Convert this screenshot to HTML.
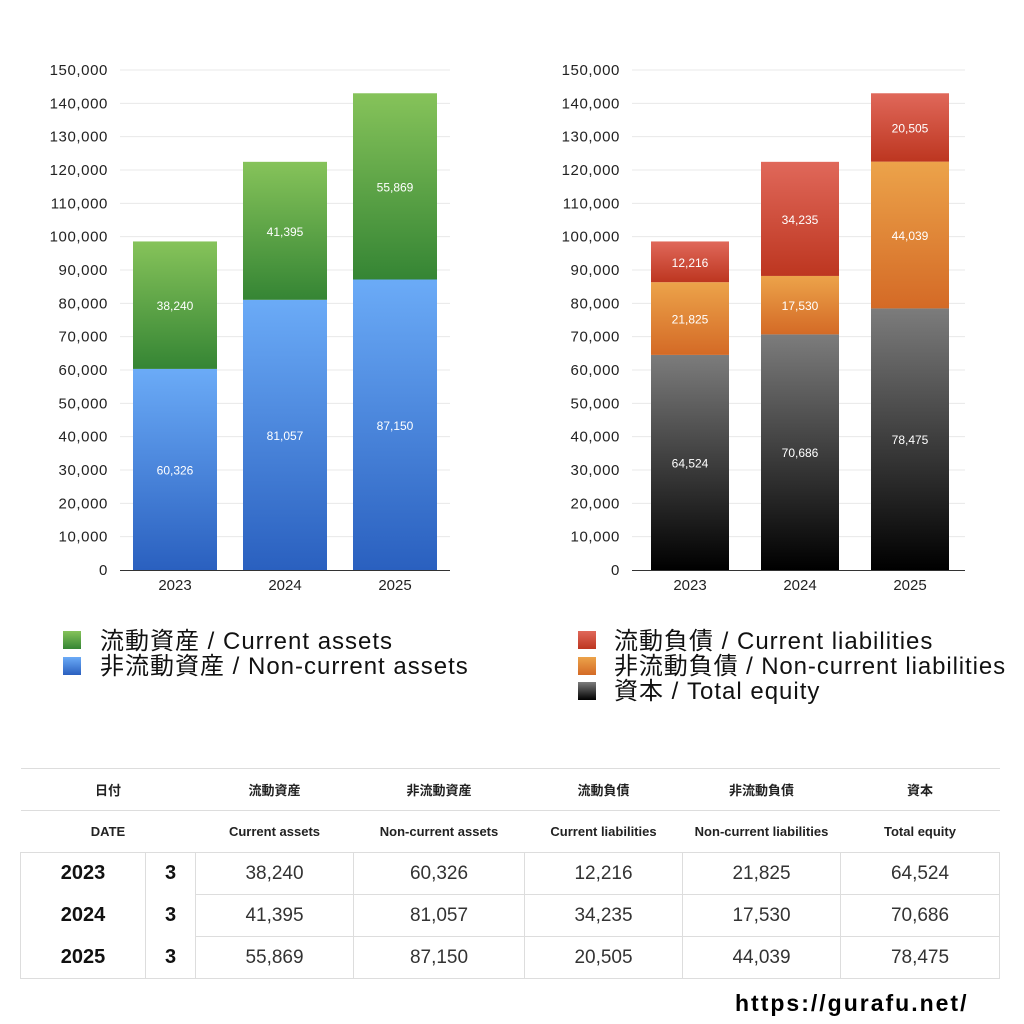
<!DOCTYPE html>
<html><head><meta charset="utf-8"><style>
body{margin:0;width:1024px;height:1024px;background:#fff;position:relative;overflow:hidden;font-family:"Liberation Sans","Noto Sans CJK JP",sans-serif}
svg{position:absolute;left:0;top:0}
.lg{position:absolute;font-size:24px;color:#111;line-height:24px;white-space:nowrap;letter-spacing:1px}
.sq{position:absolute;width:18px;height:18px}
table{position:absolute;left:20px;top:768px;width:980px;border-collapse:collapse;font-family:"Liberation Sans","Noto Sans CJK JP",sans-serif}
td{height:41px;text-align:center;padding:0;color:#222}
.h td{font-size:13px;font-weight:bold;border-top:1px solid #ddd;border-bottom:1px solid #ddd}
.d td{font-size:19px;border:1px solid #ddd;color:#333}
.d td.y{font-weight:bold;font-size:20px;border-top:none;border-bottom:none;color:#111}
</style></head><body>
<svg width="1024" height="740" id="svg">
<defs>
<linearGradient id="gG" x1="0" y1="0" x2="0" y2="1"><stop offset="0" stop-color="#86c35a"/><stop offset="1" stop-color="#358534"/></linearGradient>
<linearGradient id="gB" x1="0" y1="0" x2="0" y2="1"><stop offset="0" stop-color="#6babf7"/><stop offset="1" stop-color="#2a60bf"/></linearGradient>
<linearGradient id="gR" x1="0" y1="0" x2="0" y2="1"><stop offset="0" stop-color="#e0685a"/><stop offset="1" stop-color="#bd3620"/></linearGradient>
<linearGradient id="gO" x1="0" y1="0" x2="0" y2="1"><stop offset="0" stop-color="#eca34a"/><stop offset="1" stop-color="#d46a26"/></linearGradient>
<linearGradient id="gK" x1="0" y1="0" x2="0" y2="1"><stop offset="0" stop-color="#7c7c7c"/><stop offset="1" stop-color="#000"/></linearGradient>
</defs>
</svg>
<div class="sq" style="left:63px;top:631px;background:linear-gradient(#86c35a,#358534)"></div>
<div class="lg" style="left:100px;top:630px">流動資産 / Current assets</div>
<div class="sq" style="left:63px;top:657px;background:linear-gradient(#6babf7,#2a60bf)"></div>
<div class="lg" style="left:100px;top:655px">非流動資産 / Non-current assets</div>
<div class="sq" style="left:578px;top:631px;background:linear-gradient(#e0685a,#bd3620)"></div>
<div class="lg" style="left:614px;top:630px">流動負債 / Current liabilities</div>
<div class="sq" style="left:578px;top:657px;background:linear-gradient(#eca34a,#d46a26)"></div>
<div class="lg" style="left:614px;top:655px;letter-spacing:0.9px">非流動負債 / Non-current liabilities</div>
<div class="sq" style="left:578px;top:682px;background:linear-gradient(#7c7c7c,#000)"></div>
<div class="lg" style="left:614px;top:680px">資本 / Total equity</div>

<table>
<colgroup><col style="width:125px"><col style="width:50px"><col style="width:158px"><col style="width:171px"><col style="width:158px"><col style="width:158px"><col style="width:159px"></colgroup>
<tr class="h"><td colspan="2">日付</td><td>流動資産</td><td>非流動資産</td><td>流動負債</td><td>非流動負債</td><td>資本</td></tr>
<tr class="h"><td colspan="2">DATE</td><td>Current assets</td><td>Non-current assets</td><td>Current liabilities</td><td>Non-current liabilities</td><td>Total equity</td></tr>
<tr class="d"><td class="y" style="border-left:1px solid #ddd;border-top:1px solid #ddd">2023</td><td class="y" style="border-top:1px solid #ddd">3</td><td>38,240</td><td>60,326</td><td>12,216</td><td>21,825</td><td>64,524</td></tr>
<tr class="d"><td class="y">2024</td><td class="y">3</td><td>41,395</td><td>81,057</td><td>34,235</td><td>17,530</td><td>70,686</td></tr>
<tr class="d"><td class="y" style="border-bottom:1px solid #ddd">2025</td><td class="y" style="border-bottom:1px solid #ddd">3</td><td>55,869</td><td>87,150</td><td>20,505</td><td>44,039</td><td>78,475</td></tr>
</table>
<div style="position:absolute;left:735px;top:990px;font-size:23px;font-weight:bold;color:#000;letter-spacing:2px">https://gurafu.net/</div>

<script>
const years=["2023","2024","2025"];
const currentAssets=[38240,41395,55869];
const nonCurrentAssets=[60326,81057,87150];
const currentLiabilities=[12216,34235,20505];
const nonCurrentLiabilities=[21825,17530,44039];
const totalEquity=[64524,70686,78475];
const yTicks=[0,10000,20000,30000,40000,50000,60000,70000,80000,90000,100000,110000,120000,130000,140000,150000];
const NS="http://www.w3.org/2000/svg";
const svg=document.getElementById('svg');
function mk(t,a,p){const e=document.createElementNS(NS,t);for(const k in a)e.setAttribute(k,a[k]);(p||svg).appendChild(e);return e;}
const fmt=v=>v.toLocaleString('en-US');
function chart(x0,x1,firstC,barW,series,fills,name){
  const g=mk('g',{});
  
  
  const y=v=>570-v/150000*500;
  const xc=i=>firstC+i*110;
  yTicks.forEach(t=>{
    if(t>0){const l=mk('line',{x1:x0,x2:x1,y1:y(t),y2:y(t),stroke:'#e8e8e8'},g);
    }
    const tx=mk('text',{x:x0-12,y:y(t)+5,'text-anchor':'end','font-size':15,'letter-spacing':'0.6',fill:'#222'},g);
    
    tx.textContent=fmt(t);
  });
  years.forEach((yr,i)=>{
    let base=0;
    series.forEach((s,k)=>{
      const v=s[i];
      const r=mk('rect',{x:xc(i)-barW/2,y:y(base+v),width:barW,height:y(base)-y(base+v),fill:fills[k]},g);
      
      const tx=mk('text',{x:xc(i),y:(y(base)+y(base+v))/2+5,'text-anchor':'middle','font-size':12,fill:'#fff'},g);
      
      tx.textContent=fmt(v);
      base+=v;
    });
    const tx=mk('text',{x:xc(i),y:590,'text-anchor':'middle','font-size':15,fill:'#222'},g);
    
    tx.textContent=yr;
  });
  const ax=mk('line',{x1:x0,x2:x1,y1:570.5,y2:570.5,stroke:'#333'},g);
  
}
chart(120,450,175,84,[nonCurrentAssets,currentAssets],['url(#gB)','url(#gG)'],'assets-chart');
chart(632,965,690,78,[totalEquity,nonCurrentLiabilities,currentLiabilities],['url(#gK)','url(#gO)','url(#gR)'],'liabilities-chart');
</script>
</body></html>
